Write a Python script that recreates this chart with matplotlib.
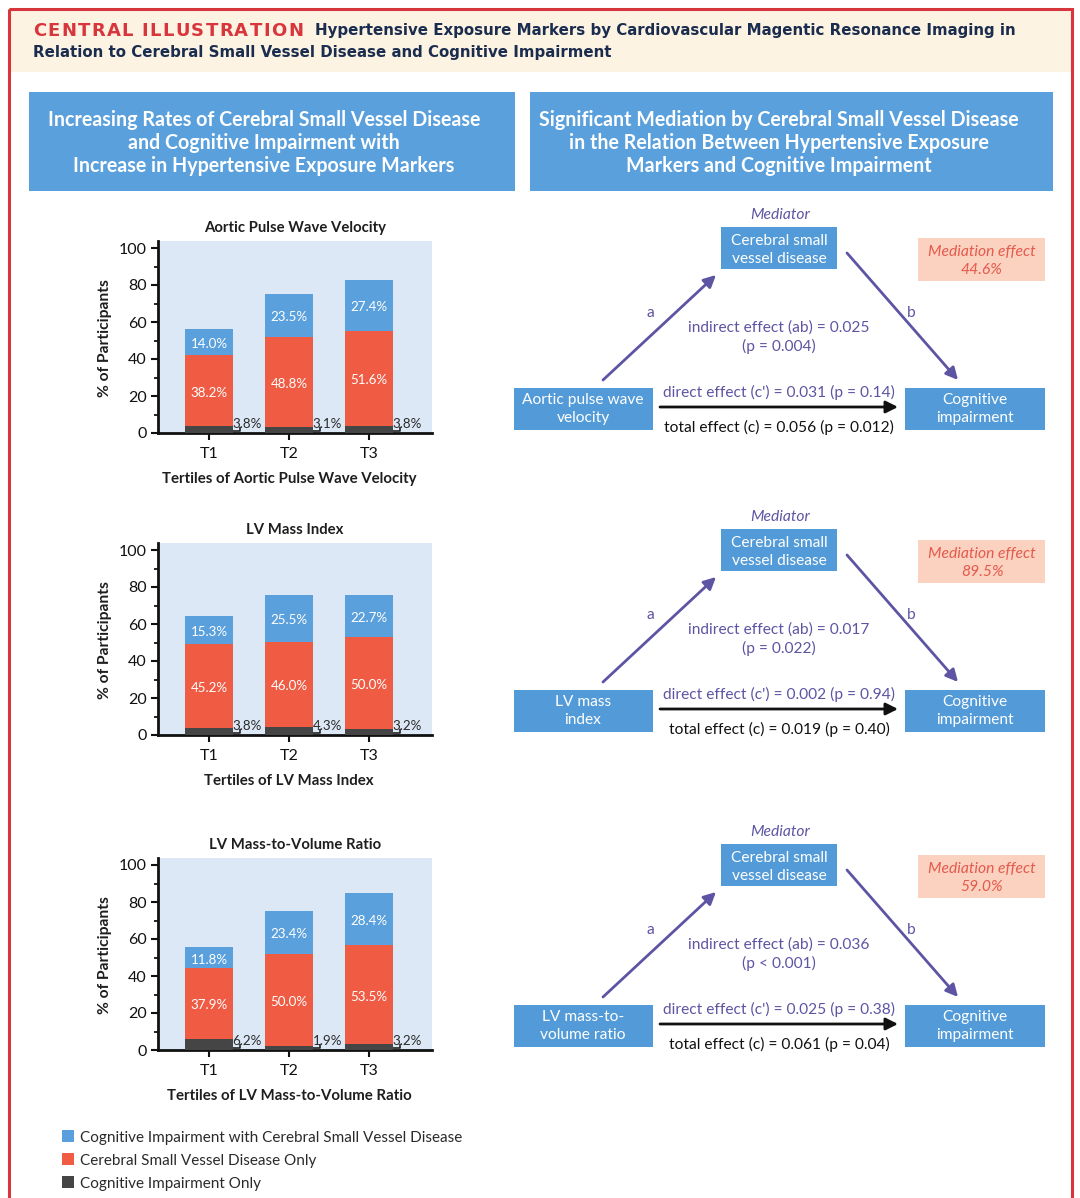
import matplotlib
matplotlib.use("Agg")
import matplotlib.pyplot as plt
from matplotlib.patches import Rectangle
from matplotlib.ticker import MultipleLocator

# ---------------- data ----------------
tertiles = ["T1", "T2", "T3"]
chart_titles = ["Aortic Pulse Wave Velocity", "LV Mass Index", "LV Mass-to-Volume Ratio"]
x_labels = ["Tertiles of Aortic Pulse Wave Velocity", "Tertiles of LV Mass Index",
            "Tertiles of LV Mass-to-Volume Ratio"]
ci_only = [[3.8, 3.1, 3.8], [3.8, 4.3, 3.2], [6.2, 1.9, 3.2]]
csvd_only = [[38.2, 48.8, 51.6], [45.2, 46.0, 50.0], [37.9, 50.0, 53.5]]
ci_with_csvd = [[14.0, 23.5, 27.4], [15.3, 25.5, 22.7], [11.8, 23.4, 28.4]]
y_ticks = [0, 20, 40, 60, 80, 100]

exposure_labels = [["Aortic pulse wave", "velocity"], ["LV mass", "index"],
                   ["LV mass-to-", "volume ratio"]]
indirect_effect = ["0.025", "0.017", "0.036"]
indirect_p = ["(p = 0.004)", "(p = 0.022)", "(p < 0.001)"]
direct_effect = ["0.031 (p = 0.14)", "0.002 (p = 0.94)", "0.025 (p = 0.38)"]
total_effect = ["0.056 (p = 0.012)", "0.019 (p = 0.40)", "0.061 (p = 0.04)"]
mediation_pct = ["44.6%", "89.5%", "59.0%"]
legend_labels = ["Cognitive Impairment with Cerebral Small Vessel Disease",
                 "Cerebral Small Vessel Disease Only", "Cognitive Impairment Only"]

# ---------------- style ----------------
BLUE = "#5aa0dc"
BOX_BLUE = "#529bd8"
RED = "#ef5b43"
DARK = "#454545"
AX_BG = "#dce8f5"
PURPLE = "#5d55a3"
SALMON = "#fbd1c0"
SALMON_TXT = "#e45a4c"
NAVY = "#1b2d4f"
BORDER = "#d8363d"
FONT = "Lato"
YOFF = 2  # visual baseline correction in px

W, H = 1080, 1198
fig = plt.figure(figsize=(W / 100, H / 100), dpi=100)
fig.patch.set_facecolor("white")
ov = fig.add_axes([0, 0, 1, 1], zorder=0)
ov.set_xlim(0, W)
ov.set_ylim(H, 0)
ov.axis("off")
renderer = fig.canvas.get_renderer()


def measure(s, size, **kw):
    kw.setdefault("family", FONT)
    t = ov.text(0, 0, s, fontsize=size, **kw)
    bb = t.get_window_extent(renderer)
    t.remove()
    return bb.width


def fitsize(s, width, **kw):
    return 10 * width / measure(s, 10, **kw)


def txt(x, y, s, size, ha="center", va="center", **kw):
    kw.setdefault("family", FONT)
    return ov.text(x, y + YOFF, s, ha=ha, va=va, fontsize=size, **kw)


def rect(x0, y0, x1, y1, **kw):
    ov.add_patch(Rectangle((x0, y0), x1 - x0, y1 - y0, **kw))


def spaced(x0, y, s, size, total, **kw):
    ws = [measure(ch, size, **kw) if ch != " " else size * 100 / 72 * 0.32 for ch in s]
    gap = (total - sum(ws)) / (len(s) - 1)
    x = x0
    for ch, w in zip(s, ws):
        if ch != " ":
            txt(x, y, ch, size, ha="left", **kw)
        x += w + gap


# border and header band
rect(10, 10, 1071, 72, facecolor="#fdf3e3", edgecolor="none")
rect(9, 9, 1072, 1230, facecolor="none", edgecolor=BORDER, lw=2.2)

s_h = fitsize("Relation to Cerebral Small Vessel Disease and Cognitive Impairment", 579,
              family="DejaVu Sans", weight="bold")
spaced(33, 29, "CENTRAL ILLUSTRATION", s_h * 1.2, 270, family="DejaVu Sans",
       weight="bold", color=BORDER)
txt(315, 29, "Hypertensive Exposure Markers by Cardiovascular Magentic Resonance Imaging in",
    s_h, ha="left", family="DejaVu Sans", weight="bold", color=NAVY)
txt(33, 51, "Relation to Cerebral Small Vessel Disease and Cognitive Impairment",
    s_h, ha="left", family="DejaVu Sans", weight="bold", color=NAVY)

# blue section headers
rect(29, 92, 515, 191, facecolor=BLUE, edgecolor="none")
rect(530, 92, 1053, 191, facecolor=BLUE, edgecolor="none")
left_head = ["Increasing Rates of Cerebral Small Vessel Disease",
             "and Cognitive Impairment with",
             "Increase in Hypertensive Exposure Markers"]
right_head = ["Significant Mediation by Cerebral Small Vessel Disease",
              "in the Relation Between Hypertensive Exposure",
              "Markers and Cognitive Impairment"]
s_lh = fitsize(left_head[0], 434, weight="bold")
s_rh = fitsize(right_head[0], 478, weight="bold")
for k, yy in enumerate([118, 141, 164]):
    txt(264, yy, left_head[k], s_lh, weight="bold", color="white")
    txt(779, yy, right_head[k], s_rh, weight="bold", color="white")

# ---------------- bar charts ----------------
offsets = [0, 302, 617]
PXU = 80.0  # px per category
X0, X1 = 158, 432
Y0 = 433
PY = 1.85
xpos = [0, 1, 2]
bw = 0.61
LOFF = YOFF / PY

s_title = fitsize(chart_titles[0], 182, weight="bold")
s_xl = fitsize(x_labels[0], 255, weight="bold")
s_yl = fitsize("% of Participants", 118, weight="bold")

for i in range(3):
    dy = offsets[i]
    ax = fig.add_axes([X0 / W, 1 - (Y0 + dy) / H, (X1 - X0) / W, 192 / H], zorder=2)
    ax.set_facecolor(AX_BG)
    ax.set_xlim(-(209 - X0) / PXU, (X1 - 209) / PXU)
    ax.set_ylim(0, 192 / PY)
    b0 = ci_only[i]
    b1 = csvd_only[i]
    b2 = ci_with_csvd[i]
    bot1 = b0
    bot2 = [a + b for a, b in zip(b0, b1)]
    ax.bar(xpos, b0, bw, color=DARK, zorder=3)
    ax.bar(xpos, b1, bw, bottom=bot1, color=RED, zorder=3)
    ax.bar(xpos, b2, bw, bottom=bot2, color=BLUE, zorder=3)
    for j in range(3):
        ax.text(xpos[j], bot1[j] + b1[j] / 2 - LOFF, f"{b1[j]:.1f}%", ha="center",
                va="center", color="white", fontsize=9.6, family=FONT, zorder=4)
        ax.text(xpos[j], bot2[j] + b2[j] / 2 - LOFF, f"{b2[j]:.1f}%", ha="center",
                va="center", color="white", fontsize=9.6, family=FONT, zorder=4)
        xr = xpos[j] + bw / 2
        ax.plot([xr, xr + 0.085, xr + 0.085], [1.0, 1.0, 3.2], color="#222222", lw=1.2,
                zorder=4, solid_capstyle="butt")
        ax.text(xr - 0.01, 6.2 - LOFF, f"{b0[j]:.1f}%", ha="left", va="center",
                color="#2a2a2a", fontsize=9.6, family=FONT, zorder=4)
    for sp in ["top", "right"]:
        ax.spines[sp].set_visible(False)
    for sp in ["left", "bottom"]:
        ax.spines[sp].set_linewidth(2)
        ax.spines[sp].set_color("#111111")
    ax.set_yticks(y_ticks)
    ax.yaxis.set_minor_locator(MultipleLocator(10))
    ax.set_xticks(xpos)
    ax.set_xticklabels(tertiles)
    ax.tick_params(axis="both", which="major", direction="out", length=5, width=1.5,
                   labelsize=11.5, colors="#111111", pad=3)
    ax.tick_params(axis="y", which="minor", direction="out", length=3, width=1.2)
    for lab in ax.get_xticklabels() + ax.get_yticklabels():
        lab.set_family(FONT)
    ax.tick_params(axis="x", pad=5)
    # titles / labels
    txt(295, 226 + dy, chart_titles[i], s_title, weight="bold", color="#1e1e1e")
    txt(289, 477 + dy, x_labels[i], s_xl, weight="bold", color="#1e1e1e")
    txt(105, 336 + dy, "% of Participants", s_yl, weight="bold", color="#1e1e1e",
        rotation=90)

# ---------------- mediation diagrams ----------------
s_box = fitsize("Cerebral small", 97)
s_eff = fitsize("direct effect (c') = 0.031 (p = 0.14)", 232)
s_med = fitsize("Mediator", 60, style="italic")
s_me = fitsize("Mediation effect", 108, style="italic")

for i in range(3):
    dy = offsets[i]
    # boxes
    rect(721, 227 + dy, 837, 269 + dy, facecolor=BOX_BLUE, edgecolor="none")
    rect(514, 388 + dy, 653, 430 + dy, facecolor=BOX_BLUE, edgecolor="none")
    rect(905, 388 + dy, 1045, 430 + dy, facecolor=BOX_BLUE, edgecolor="none")
    rect(918, 238 + dy, 1045, 281 + dy, facecolor=SALMON, edgecolor="none")
    txt(780, 213 + dy, "Mediator", s_med, style="italic", color=PURPLE)
    txt(779, 239 + dy, "Cerebral small", s_box, color="white")
    txt(779, 257 + dy, "vessel disease", s_box, color="white")
    txt(583, 398 + dy, exposure_labels[i][0], s_box, color="white")
    txt(583, 416 + dy, exposure_labels[i][1], s_box, color="white")
    txt(975, 398 + dy, "Cognitive", s_box, color="white")
    txt(975, 416 + dy, "impairment", s_box, color="white")
    txt(982, 250 + dy, "Mediation effect", s_me, style="italic", color=SALMON_TXT)
    txt(982, 268 + dy, mediation_pct[i], s_me, style="italic", color=SALMON_TXT)
    # arrows
    ap = dict(arrowstyle="-|>", color=PURPLE, lw=2, mutation_scale=18,
              shrinkA=0, shrinkB=0)
    ov.annotate("", xy=(716, 275 + dy), xytext=(603, 380 + dy), arrowprops=ap)
    ov.annotate("", xy=(958, 380 + dy), xytext=(847, 253 + dy), arrowprops=ap)
    apk = dict(arrowstyle="-|>", color="#111111", lw=2, mutation_scale=18,
               shrinkA=0, shrinkB=0)
    ov.annotate("", xy=(898, 407 + dy), xytext=(660, 407 + dy), arrowprops=apk)
    txt(650, 311 + dy, "a", s_eff, color=PURPLE)
    txt(911, 311 + dy, "b", s_eff, color=PURPLE)
    txt(779, 326 + dy, f"indirect effect (ab) = {indirect_effect[i]}", s_eff, color=PURPLE)
    txt(779, 344 + dy, indirect_p[i], s_eff, color=PURPLE)
    txt(779, 390 + dy, f"direct effect (c') = {direct_effect[i]}", s_eff, color=PURPLE)
    txt(779, 425 + dy, f"total effect (c) = {total_effect[i]}", s_eff, color="#111111")

# ---------------- legend ----------------
s_leg = fitsize(legend_labels[0], 382)
for k, (lab, col) in enumerate(zip(legend_labels, [BLUE, RED, DARK])):
    yy = 1136 + 23 * k
    rect(62, yy - 6, 74, yy + 6, facecolor=col, edgecolor="none")
    txt(80, yy, lab, s_leg, ha="left", color="#2a2a2a")

fig.savefig("out.png", dpi=100, facecolor="white")
